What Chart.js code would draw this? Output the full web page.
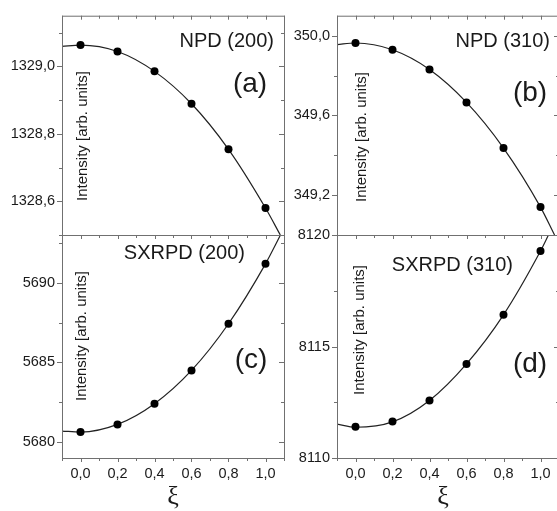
<!DOCTYPE html>
<html>
<head>
<meta charset="utf-8">
<script src="https://cdn.jsdelivr.net/npm/chart.js@4/dist/chart.umd.min.js"></script>
<style>
  html, body { margin: 0; padding: 0; background: #fff; }
  #wrap { position: relative; width: 557px; height: 511px; overflow: hidden; }
  #wrap canvas { position: absolute; left: 0; top: 0; }
</style>
</head>
<body>
<div id="wrap">
  <canvas id="pa" width="600" height="511"></canvas>
  <canvas id="pb" width="600" height="511"></canvas>
  <canvas id="pc" width="600" height="511"></canvas>
  <canvas id="pd" width="600" height="511"></canvas>
</div>
<script>
// xi values of the measured points
const xi = [0, 0.2, 0.4, 0.6, 0.8, 1.0];
const xTicks = [0, 0.2, 0.4, 0.6, 0.8, 1.0];
const xMinor = [-0.1, 0.1, 0.3, 0.5, 0.7, 0.9, 1.1];

// (a) NPD (200)
const npd200 = [1329.063, 1329.044, 1328.985, 1328.889, 1328.754, 1328.580];
const npd200FitX = [-0.1, 0, 0.2, 0.4, 0.6, 0.8, 1.0, 1.08];
const npd200Fit = [1329.059, 1329.063, 1329.044, 1328.985, 1328.889, 1328.754, 1328.580, 1328.5];
const npd200Ticks = [1328.6, 1328.8, 1329.0];
const npd200Minor = [1328.5, 1328.7, 1328.9, 1329.1];

// (b) NPD (310)
const npd310 = [349.963, 349.929, 349.830, 349.665, 349.436, 349.140];
const npd310FitX = [-0.1, 0, 0.2, 0.4, 0.6, 0.8, 1.0, 1.076];
const npd310Fit = [349.955, 349.963, 349.929, 349.830, 349.665, 349.436, 349.140, 349.0];
const npd310Ticks = [349.2, 349.6, 350.0];
const npd310Minor = [349.4, 349.8];

// (c) SXRPD (200)
const sxr200 = [5680.63, 5681.11, 5682.41, 5684.50, 5687.43, 5691.19];
const sxr200FitX = [-0.1, 0, 0.2, 0.4, 0.6, 0.8, 1.0, 1.081];
const sxr200Fit = [5680.69, 5680.63, 5681.11, 5682.41, 5684.50, 5687.43, 5691.19, 5693.0];
const sxr200Ticks = [5680, 5685, 5690];
const sxr200Minor = [5682.5, 5687.5, 5692.5];

// (d) SXRPD (310)
const sxr310 = [8111.40, 8111.64, 8112.58, 8114.22, 8116.42, 8119.28];
const sxr310FitX = [-0.1, 0, 0.2, 0.4, 0.6, 0.8, 1.0, 1.043];
const sxr310Fit = [8111.52, 8111.38, 8111.62, 8112.58, 8114.22, 8116.42, 8119.28, 8120.0];
const sxr310Ticks = [8110, 8115, 8120];
const sxr310Minor = [8112.5, 8117.5];

const FONT = '"Liberation Sans", Arial, sans-serif';
const AXIS = '#707070';
const INK = '#1a1a1a';

const pts = (xs, ys) => xs.map((x, i) => ({ x: x, y: ys[i] }));

// box, mirrored ticks and the texts that sit inside the plot
const frame = {
  id: 'frame',
  afterDraw(chart, args, o) {
    const { ctx, chartArea: a } = chart;
    const x = chart.scales.x, y = chart.scales.y;
    ctx.save();
    ctx.strokeStyle = AXIS;
    ctx.lineWidth = 1;
    ctx.strokeRect(a.left + 0.5, a.top + 0.5, a.right - a.left, a.bottom - a.top);

    ctx.beginPath();
    const yTick = (v, len) => {
      const py = Math.round(y.getPixelForValue(v)) + 0.5;
      ctx.moveTo(a.left - len, py); ctx.lineTo(a.left, py);
      ctx.moveTo(a.right - len, py); ctx.lineTo(a.right, py);
    };
    o.major.forEach(v => yTick(v, 5));
    o.minor.forEach(v => yTick(v, 3));
    const xTick = (v, len) => {
      const px = Math.round(x.getPixelForValue(v)) + 0.5;
      ctx.moveTo(px, a.top); ctx.lineTo(px, a.top + len);
      if (o.bottom) { ctx.moveTo(px, a.bottom); ctx.lineTo(px, a.bottom + len); }
    };
    xTicks.forEach(v => xTick(v, 4));
    xMinor.forEach(v => xTick(v, 3));
    ctx.stroke();

    ctx.fillStyle = INK;
    ctx.textBaseline = 'middle';
    ctx.font = '20px ' + FONT;
    ctx.textAlign = 'right';
    ctx.fillText(o.title, o.titleX, o.titleY);
    ctx.font = '28px ' + FONT;
    ctx.textAlign = 'center';
    ctx.fillText(o.letter, o.letterX, o.letterY);

    ctx.save();
    ctx.translate(o.labelX, o.labelY);
    ctx.rotate(-Math.PI / 2);
    ctx.font = '15px ' + FONT;
    ctx.fillText('Intensity [arb. units]', 0, 0);
    ctx.restore();

    if (o.bottom) {
      ctx.font = '26px "Liberation Serif", "DejaVu Serif", serif';
      ctx.fillText('\u03BE', o.xiX, o.xiY);
    }
    ctx.restore();
  }
};

function panel(id, p) {
  const fmt = v => v.toFixed(p.dec).replace('.', ',');
  new Chart(document.getElementById(id), {
    type: 'scatter',
    data: {
      datasets: [{
        data: pts(xi, p.values),
        backgroundColor: '#000',
        borderColor: '#000',
        borderWidth: 0,
        pointRadius: 4,
        order: 0
      }, {
        data: pts(p.fitX, p.fit),
        showLine: true,
        cubicInterpolationMode: 'monotone',
        borderColor: '#222',
        borderWidth: 1.2,
        pointRadius: 0,
        order: 1
      }]
    },
    options: {
      responsive: false,
      animation: false,
      events: [],
      layout: {
        padding: { left: 0, top: p.top, right: 600 - p.right, bottom: 0 }
      },
      plugins: {
        legend: { display: false },
        tooltip: { enabled: false },
        frame: p.text
      },
      scales: {
        x: {
          type: 'linear',
          min: -0.1, max: 1.1,
          grid: { display: false, drawTicks: false },
          border: { display: false },
          afterBuildTicks: s => { s.ticks = xTicks.map(v => ({ value: v })); },
          afterFit: s => { s.height = 511 - p.bot; },
          ticks: {
            display: p.bottom,
            padding: 7,
            autoSkip: false, maxRotation: 0,
            color: INK,
            font: { family: FONT, size: 14.5 },
            callback: v => v.toFixed(1).replace('.', ',')
          }
        },
        y: {
          type: 'linear',
          min: p.min, max: p.max,
          grid: { display: false, drawTicks: false },
          border: { display: false },
          afterBuildTicks: s => { s.ticks = p.ticks.map(v => ({ value: v })); },
          afterFit: s => { s.width = p.left; },
          ticks: {
            padding: 7,
            autoSkip: false,
            color: INK,
            font: { family: FONT, size: 14.5 },
            callback: fmt
          }
        }
      }
    },
    plugins: [frame]
  });
}

panel('pa', {
  left: 62, top: 13, right: 284, bot: 235, bottom: false,
  min: 1328.5, max: 1329.15, dec: 1,
  values: npd200, fitX: npd200FitX, fit: npd200Fit, ticks: npd200Ticks,
  text: { major: npd200Ticks, minor: npd200Minor, bottom: false,
    title: 'NPD (200)', titleX: 274, titleY: 41, letter: '(a)', letterX: 250, letterY: 84,
    labelX: 83, labelY: 136 }
});
panel('pb', {
  left: 337, top: 13, right: 559, bot: 235, bottom: false,
  min: 349.0, max: 350.1, dec: 1,
  values: npd310, fitX: npd310FitX, fit: npd310Fit, ticks: npd310Ticks,
  text: { major: npd310Ticks, minor: npd310Minor, bottom: false,
    title: 'NPD (310)', titleX: 550, titleY: 41, letter: '(b)', letterX: 530, letterY: 93,
    labelX: 362, labelY: 137 }
});
panel('pc', {
  left: 62, top: 235, right: 284, bot: 458, bottom: true,
  min: 5679, max: 5693, dec: 0,
  values: sxr200, fitX: sxr200FitX, fit: sxr200Fit, ticks: sxr200Ticks,
  text: { major: sxr200Ticks, minor: sxr200Minor, bottom: true,
    title: 'SXRPD (200)', titleX: 245, titleY: 253, letter: '(c)', letterX: 251, letterY: 360,
    labelX: 82, labelY: 336, xiX: 173, xiY: 497 }
});
panel('pd', {
  left: 337, top: 235, right: 559, bot: 458, bottom: true,
  min: 8110, max: 8120, dec: 0,
  values: sxr310, fitX: sxr310FitX, fit: sxr310Fit, ticks: sxr310Ticks,
  text: { major: sxr310Ticks, minor: sxr310Minor, bottom: true,
    title: 'SXRPD (310)', titleX: 513, titleY: 265, letter: '(d)', letterX: 530, letterY: 364,
    labelX: 360, labelY: 330, xiX: 443, xiY: 497 }
});
</script>
</body>
</html>
